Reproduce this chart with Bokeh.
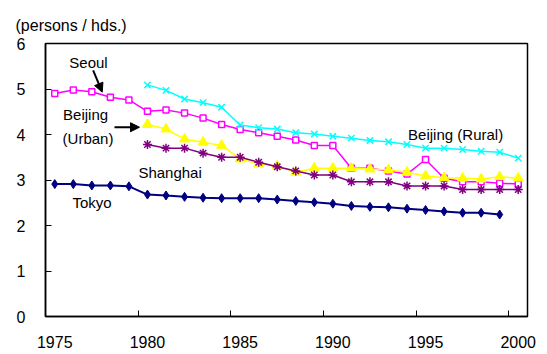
from bokeh.plotting import figure
from bokeh.models import Range1d, FixedTicker, Label, Arrow, NormalHead
from bokeh.embed import file_html
from bokeh.resources import INLINE

FONT = "Liberation Sans"

tokyo_years = list(range(1975, 2000))
tokyo = [2.91, 2.91, 2.88, 2.88, 2.86, 2.68, 2.66, 2.63, 2.61, 2.60, 2.60, 2.60, 2.57,
         2.54, 2.51, 2.48, 2.43, 2.41, 2.40, 2.37, 2.34, 2.31, 2.28, 2.28, 2.24]

seoul_years = list(range(1975, 2001))
seoul = [4.90, 4.98, 4.94, 4.82, 4.76, 4.51, 4.54, 4.47, 4.36, 4.22, 4.11, 4.04, 3.96,
         3.88, 3.76, 3.76, 3.26, 3.26, 3.20, 3.13, 3.45, 3.04, 2.96, 2.96, 2.93, 2.91]

china_years = list(range(1980, 2001))
beijing_rural = [5.09, 4.97, 4.78, 4.70, 4.60, 4.21, 4.15, 4.12, 4.04, 4.01, 3.96,
                 3.92, 3.87, 3.84, 3.78, 3.70, 3.70, 3.67, 3.63, 3.61, 3.48]
beijing_urban = [4.22, 4.12, 3.90, 3.83, 3.76, 3.46, 3.35, 3.31, 3.17, 3.26, 3.26,
                 3.26, 3.24, 3.22, 3.17, 3.09, 3.05, 3.04, 3.02, 3.07, 3.04]
shanghai = [3.78, 3.70, 3.70, 3.59, 3.50, 3.50, 3.39, 3.29, 3.20, 3.11, 3.11,
            2.96, 2.96, 2.96, 2.87, 2.87, 2.87, 2.79, 2.79, 2.79, 2.79]

year_labels = [1975, 1980, 1985, 1990, 1995, 2000]
y_ticks = [0, 1, 2, 3, 4, 5, 6]

p = figure(width=547, height=354, output_backend="svg", toolbar_location=None,
           x_range=Range1d(1974.5, 2000.5), y_range=Range1d(0, 6),
           min_border_left=45, min_border_right=20, min_border_top=43, min_border_bottom=38,
           title="(persons / hds.)")
p.title.align = "left"
p.title.offset = -30
p.title.standoff = 20
p.title.text_font = FONT
p.title.text_font_size = "16px"
p.title.text_font_style = "normal"
p.title.text_color = "black"

p.xgrid.visible = False
p.ygrid.visible = False
p.outline_line_color = "black"
p.outline_line_width = 1.5
p.background_fill_color = "white"
p.border_fill_color = "white"

xa = p.xaxis[0]
xa.ticker = FixedTicker(ticks=year_labels, minor_ticks=[y - 0.5 for y in year_labels[1:]])
xa.major_tick_in = 0
xa.major_tick_out = 0
xa.minor_tick_in = 6
xa.minor_tick_out = 0
xa.minor_tick_line_color = "black"
xa.minor_tick_line_width = 1
xa.axis_line_color = "black"
xa.axis_line_width = 1.5
xa.major_label_standoff = 19
xa.major_label_text_font = FONT
xa.major_label_text_font_size = "16px"
xa.major_label_text_color = "black"

ya = p.yaxis[0]
ya.ticker = FixedTicker(ticks=y_ticks)
ya.major_tick_in = 6
ya.major_tick_out = 0
ya.minor_tick_line_color = None
ya.major_tick_line_color = "black"
ya.axis_line_color = "black"
ya.axis_line_width = 1.5
ya.major_label_standoff = 20
ya.major_label_text_font = FONT
ya.major_label_text_font_size = "16px"
ya.major_label_text_color = "black"

# Tokyo
p.line(tokyo_years, tokyo, line_color="#000080", line_width=2)
p.scatter(tokyo_years, tokyo, marker="diamond", size=9, fill_color="#000080", line_color="#000080")
# Seoul
p.line(seoul_years, seoul, line_color="#FF00FF", line_width=1.5)
p.scatter(seoul_years, seoul, marker="square", size=6, fill_color="white",
          line_color="#FF00FF", line_width=1.5)
# Beijing (Rural)
p.line(china_years, beijing_rural, line_color="#00FFFF", line_width=1.5)
p.scatter(china_years, beijing_rural, marker="x", size=9, line_color="#00FFFF", line_width=1.5)
# Beijing (Urban)
p.line(china_years, beijing_urban, line_color="#FFFF00", line_width=1.5)
p.scatter(china_years, beijing_urban, marker="triangle", size=10, fill_color="#FFFF00",
          line_color="#FFFF00")
# Shanghai
p.line(china_years, shanghai, line_color="#800080", line_width=1.5)
p.scatter(china_years, shanghai, marker="asterisk", size=9, line_color="#800080", line_width=1.5)

def lab(x, y, t, align="left"):
    p.add_layout(Label(x=x, y=y, text=t, text_font=FONT, text_font_size="15px",
                       text_align=align, text_baseline="middle", text_color="black"))

lab(1976.82, 5.58, "Seoul", "center")
lab(1975.45, 4.44, "Beijing")
lab(1975.42, 3.92, "(Urban)")
lab(1979.51, 3.16, "Shanghai")
lab(1975.95, 2.50, "Tokyo")
lab(1994.06, 3.99, "Beijing (Rural)")

p.add_layout(Arrow(x_start=1977.07, y_start=5.41, x_end=1977.56, y_end=4.93,
                   line_color="black", line_width=2,
                   end=NormalHead(size=9, fill_color="black", line_color="black")))
p.add_layout(Arrow(x_start=1978.22, y_start=4.16, x_end=1979.57, y_end=4.16,
                   line_color="black", line_width=2,
                   end=NormalHead(size=9, fill_color="black", line_color="black")))

open("out.html", "w").write(file_html(p, INLINE))
